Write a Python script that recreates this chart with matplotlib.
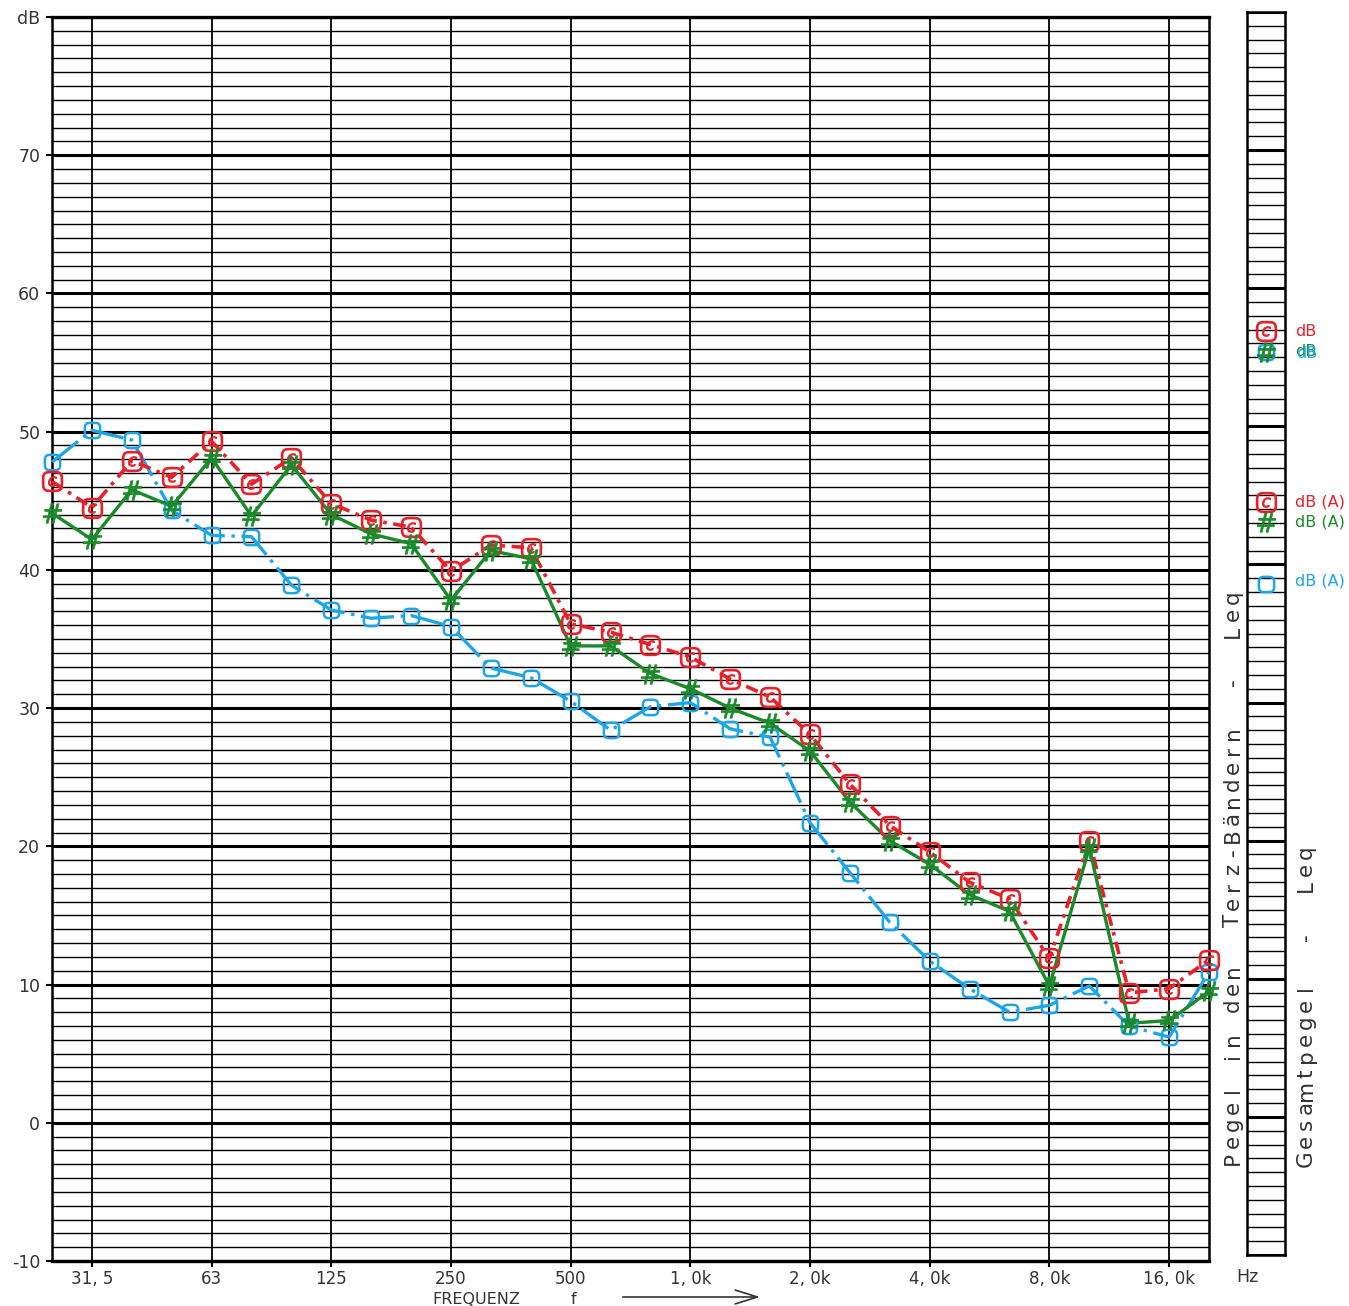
import numpy as np
import matplotlib
matplotlib.use('Agg')
import matplotlib.pyplot as plt
from matplotlib.path import Path
from matplotlib.patches import FancyArrowPatch

# 1/3-octave bands 25 Hz .. 20 kHz
bands = ['25', '31,5', '40', '50', '63', '80', '100', '125', '160', '200',
         '250', '315', '400', '500', '630', '800', '1,0k', '1,25k', '1,6k', '2,0k',
         '2,5k', '3,15k', '4,0k', '5,0k', '6,3k', '8,0k', '10k', '12,5k', '16,0k', '20k']

tick_bands = ['31,5', '63', '125', '250', '500', '1,0k', '2,0k', '4,0k', '8,0k', '16,0k']
tick_labels = ['31, 5', '63', '125', '250', '500', '1, 0k', '2, 0k', '4, 0k', '8, 0k', '16, 0k']

y_ticks = [-10, 0, 10, 20, 30, 40, 50, 60, 70, 80]
y_labels = ['-10', '0', '10', '20', '30', '40', '50', '60', '70', 'dB']

red = [46.4, 44.5, 47.9, 46.7, 49.3, 46.2, 48.1, 44.8, 43.6, 43.1,
       39.9, 41.8, 41.6, 36.1, 35.5, 34.6, 33.7, 32.1, 30.8, 28.1,
       24.5, 21.5, 19.6, 17.4, 16.2, 11.9, 20.4, 9.4, 9.7, 11.8]
green = [44.1, 42.2, 45.8, 44.6, 48.1, 43.9, 47.6, 44.0, 42.6, 41.9,
         37.8, 41.4, 40.8, 34.5, 34.5, 32.5, 31.4, 30.0, 28.9, 26.9,
         23.2, 20.4, 18.7, 16.5, 15.3, 9.9, 19.9, 7.2, 7.4, 9.5]
blue = [47.8, 50.1, 49.4, 44.3, 42.5, 42.4, 38.9, 37.1, 36.5, 36.7,
        35.9, 32.9, 32.2, 30.5, 28.4, 30.1, 30.4, 28.5, 27.9, 21.7,
        18.1, 14.5, 11.7, 9.7, 8.0, 8.5, 9.9, 7.0, 6.2, 10.9]

# overall levels (Gesamtpegel)
total_db = {'red': 56.9, 'green': 55.4, 'blue': 55.4}
total_dba = {'red': 44.5, 'green': 43.1, 'blue': 38.6}

RED = '#e8202a'
GREEN = '#1b8a2a'
BLUE = '#1ea5e8'
INK = '#333333'
FS = 12.5

W, H = 1349, 1306

# rounded square marker (superellipse)
t = np.linspace(0, 2 * np.pi, 65)
sq = np.column_stack([np.sign(np.cos(t)) * np.abs(np.cos(t)) ** 0.5,
                      np.sign(np.sin(t)) * np.abs(np.sin(t)) ** 0.5])
rsquare = Path(sq, closed=True)

fig = plt.figure(figsize=(W / 100, H / 100), dpi=100)
ax = fig.add_axes([52 / W, 1 - 1261 / H, 1157 / W, 1244 / H])
x = np.arange(len(bands))
ax.set_xlim(0, len(bands) - 1)
ax.set_ylim(-10, 80)

ax.set_xticks([bands.index(b) for b in tick_bands])
ax.set_xticklabels(tick_labels)
ax.set_yticks(y_ticks)
ax.set_yticklabels(y_labels)
ax.set_yticks(np.arange(-10, 81), minor=True)
ax.tick_params(which='major', direction='out', length=4.5, width=1.5, color='k',
               labelsize=FS, labelcolor=INK, pad=4)
ax.tick_params(axis='x', which='major', labelsize=12, pad=2)
ax.tick_params(which='minor', length=0)
ax.grid(axis='y', which='minor', color='k', lw=1.0)
ax.grid(axis='y', which='major', color='k', lw=2.2)
ax.grid(axis='x', which='major', color='k', lw=1.3)
for s in ['left', 'right']:
    ax.spines[s].set_linewidth(1.8)
for s in ['top', 'bottom']:
    ax.spines[s].set_linewidth(2.4)

# curves
ax.plot(x, blue, color=BLUE, lw=2.4, dashes=(10, 2, 1, 2), zorder=3, clip_on=False)
ax.plot(x, red, color=RED, lw=2.6, dashes=(3.5, 1.8, 1, 1.8), zorder=4, clip_on=False)
ax.plot(x, green, color=GREEN, lw=2.4, zorder=5, clip_on=False)

ax.plot(x, blue, ls='none', marker=rsquare, ms=11, mfc='none', mec=BLUE, mew=1.8,
        zorder=6, clip_on=False)
ax.plot(x, red, ls='none', marker=rsquare, ms=13.5, mfc='none', mec=RED, mew=1.9,
        zorder=7, clip_on=False)
ax.plot(x, red, ls='none', marker='$c$', ms=7, mfc=RED, mec=RED, mew=0.6,
        zorder=7, clip_on=False)
ax.plot(x, green, ls='none', marker=r'$\#$', ms=14, mfc=GREEN, mec=GREEN, mew=0.5,
        zorder=8, clip_on=False)

# overall level strip
ax2 = fig.add_axes([1247 / W, 1 - 1255 / H, 38 / W, 1243 / H])
ax2.set_xlim(0, 1)
ax2.set_ylim(-10, 80)
ax2.set_xticks([])
ax2.set_yticks(y_ticks)
ax2.set_yticks(np.arange(-10, 81), minor=True)
ax2.tick_params(which='both', length=0, labelleft=False)
ax2.grid(axis='y', which='minor', color='k', lw=1.0)
ax2.grid(axis='y', which='major', color='k', lw=2.2)
for s in ax2.spines.values():
    s.set_linewidth(1.8)

ax2.plot([0.5], [total_db['blue']], ls='none', marker=rsquare, ms=11, mfc='none',
         mec=BLUE, mew=1.8, zorder=5)
ax2.plot([0.5], [total_db['red']], ls='none', marker=rsquare, ms=13.5, mfc='none',
         mec=RED, mew=1.9, zorder=6)
ax2.plot([0.5], [total_db['red']], ls='none', marker='$c$', ms=7, mfc=RED, mec=RED,
         mew=0.6, zorder=6)
ax2.plot([0.5], [total_db['green']], ls='none', marker=r'$\#$', ms=14, mfc=GREEN,
         mec=GREEN, mew=0.5, zorder=7)
ax2.plot([0.5], [total_dba['red']], ls='none', marker=rsquare, ms=13.5, mfc='none',
         mec=RED, mew=1.9, zorder=6)
ax2.plot([0.5], [total_dba['red']], ls='none', marker='$c$', ms=7, mfc=RED, mec=RED,
         mew=0.6, zorder=6)
ax2.plot([0.5], [total_dba['green']], ls='none', marker=r'$\#$', ms=14, mfc=GREEN,
         mec=GREEN, mew=0.5, zorder=7)
ax2.plot([0.5], [total_dba['blue']], ls='none', marker=rsquare, ms=11, mfc='none',
         mec=BLUE, mew=1.8, zorder=5)

tr = ax2.get_yaxis_transform()
lx = (1295 - 1247) / 38
lab = dict(fontsize=11.5, va='center', transform=tr, clip_on=False)
ax2.text(lx, total_db['red'], 'dB', color=RED, **lab)
ax2.text(lx, total_db['green'], 'dB', color=GREEN, **lab)
ax2.text(lx + 0.02, total_db['blue'] - 0.1, 'dB', color=BLUE, **lab)
ax2.text(lx, total_dba['red'], 'dB (A)', color=RED, **lab)
ax2.text(lx, total_dba['green'], 'dB (A)', color=GREEN, **lab)
ax2.text(lx, total_dba['blue'] + 0.2, 'dB (A)', color=BLUE, **lab)


def spaced(s, x_base, y_start, pitch, size):
    # plotter style lettering: one character per fixed cell, rotated
    for i, ch in enumerate(s):
        if ch == ' ':
            continue
        y = y_start - (i + 0.5) * pitch
        fig.text(x_base / W, 1 - y / H, ch, rotation=90, rotation_mode='anchor',
                 ha='center', va='baseline', fontsize=size, color=INK)


spaced('Pegel in den  Terz-Bändern  -  Leq', 1239, 1167, 17.0, 15.5)
spaced('Gesamtpegel  -  Leq', 1312, 1167, 17.0, 15.5)

# x axis caption
fig.text(432 / W, 1 - 1304 / H, 'FREQUENZ', fontsize=11.5, color=INK, va='baseline', ha='left')
fig.text(573 / W, 1 - 1304 / H, 'f', fontsize=11.5, color=INK, va='baseline', ha='center')
fig.text(1247 / W, 1 - 1277 / H, 'Hz', fontsize=FS, color=INK, va='center', ha='center')
fig.add_artist(FancyArrowPatch(
    (620 / W, 1 - 1297 / H), (763 / W, 1 - 1297 / H), transform=fig.transFigure,
    arrowstyle='->,head_length=1.6,head_width=0.5', mutation_scale=10,
    color=INK, lw=1.2))

plt.savefig('out.png', dpi=100)
plt.close()
